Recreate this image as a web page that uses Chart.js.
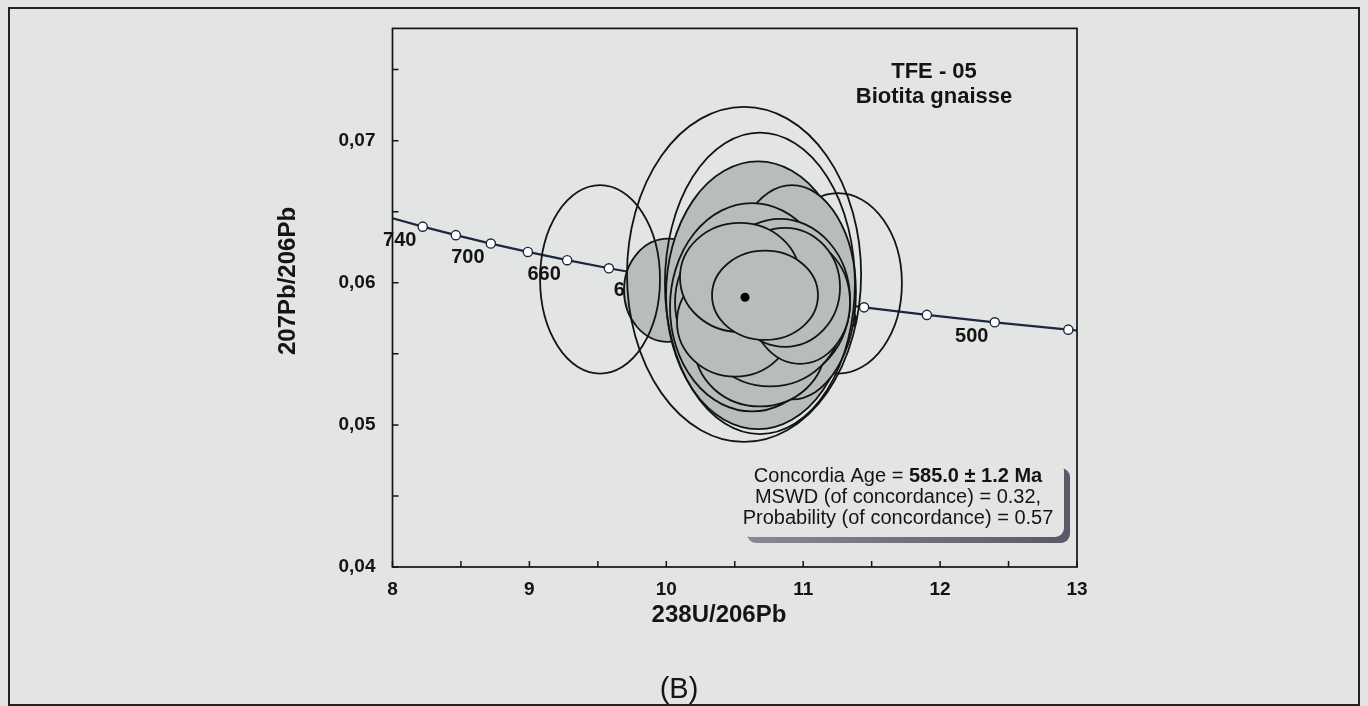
<!DOCTYPE html>
<html>
<head>
<meta charset="utf-8">
<script src="https://cdn.jsdelivr.net/npm/chart.js@4.4.1/dist/chart.umd.min.js"></script>
<style>
  html, body { margin: 0; padding: 0; background: #e3e5e5; }
  #wrap { position: relative; width: 1368px; height: 706px; }
</style>
</head>
<body>
<div id="wrap"><canvas id="c" width="1368" height="706"></canvas></div>
<script>
// Concordia curve nodes (Tera-Wasserburg space), 20 Ma apart; null age = curve end at the frame
const concordiaAges = [null, 740, 720, 700, 680, 660, 640, 620, 600, 580, 560, 540, 520, 500, 480, null];
const concordiaX = [8.000, 8.2208, 8.4627, 8.7182, 8.9888, 9.2759, 9.5808, 9.9054, 10.2518, 10.6220, 11.0187, 11.4447, 11.9036, 12.3993, 12.9363, 13.000];
const concordiaY = [0.06454, 0.06395, 0.06335, 0.06276, 0.06217, 0.06159, 0.06102, 0.06046, 0.05990, 0.05935, 0.05881, 0.05827, 0.05774, 0.05722, 0.05670, 0.05664];
// ages written beside the curve
const concordiaLabelAges = [740, 700, 660, 620, 580, 540, 500];

// Zircon spot error ellipses (drawing order): centre, half-axes, style
// style: 'under' = open, behind the spots; 'fill' = grey spot; 'open' = open outline on top
const ellipseX      = [11.254, 10.012, 10.670, 10.918, 10.626, 10.831, 10.575, 10.684, 10.758, 10.502, 10.977, 10.867, 10.538, 10.721, 9.516, 10.568, 10.684];
const ellipseY      = [0.05996, 0.05947, 0.05912, 0.05933, 0.05828, 0.05877, 0.05863, 0.05549, 0.05759, 0.05724, 0.05863, 0.05968, 0.06038, 0.05912, 0.06024, 0.06059, 0.05996];
const ellipseHalfX  = [0.467, 0.321, 0.672, 0.467, 0.599, 0.511, 0.511, 0.475, 0.526, 0.424, 0.365, 0.402, 0.438, 0.387, 0.438, 0.855, 0.694];
const ellipseHalfY  = [0.00635, 0.00363, 0.00942, 0.00754, 0.00733, 0.00572, 0.00523, 0.00419, 0.00488, 0.00384, 0.00433, 0.00419, 0.00384, 0.00314, 0.00663, 0.01179, 0.01061];
const ellipseStyle  = ['under', 'fill', 'fill', 'fill', 'fill', 'fill', 'fill', 'fill', 'fill', 'fill', 'fill', 'fill', 'fill', 'fill', 'open', 'open', 'open'];

// Concordia age point
const ageX = [10.575];
const ageY = [0.05898];

// Axis ticks
const xTicks = [8, 8.5, 9, 9.5, 10, 10.5, 11, 11.5, 12, 12.5, 13];
const yTicks = [0.04, 0.045, 0.05, 0.055, 0.06, 0.065, 0.07, 0.075];

const FONT = '"Liberation Sans", Arial, sans-serif';
const BG = '#e3e5e5';
const INK = '#141414';

const decorPlugin = {
  id: 'decor',
  beforeDraw(chart) {
    const ctx = chart.ctx;
    ctx.save();
    ctx.fillStyle = BG;
    ctx.fillRect(0, 0, chart.width, chart.height);
    // outer figure frame
    ctx.strokeStyle = '#222';
    ctx.lineWidth = 2;
    ctx.strokeRect(9, 8, 1350, 697);
    ctx.restore();
  },
  afterDatasetsDraw(chart) {
    const ctx = chart.ctx;
    const xs = chart.scales.x, ys = chart.scales.y;
    const area = chart.chartArea;
    ctx.save();

    // age labels along the concordia (drawn first, spots cover some)
    ctx.fillStyle = INK;
    ctx.font = 'bold 20px ' + FONT;
    ctx.textAlign = 'center';
    ctx.textBaseline = 'middle';
    concordiaLabelAges.forEach(a => {
      const i = concordiaAges.indexOf(a);
      const px = xs.getPixelForValue(concordiaX[i]);
      const py = ys.getPixelForValue(concordiaY[i]);
      ctx.fillText(String(a), px - 23, py + 14);
    });

    // error ellipses in list order
    ellipseX.forEach((_, i) => {
      const cx = xs.getPixelForValue(ellipseX[i]);
      const cy = ys.getPixelForValue(ellipseY[i]);
      const rx = Math.abs(xs.getPixelForValue(ellipseX[i] + ellipseHalfX[i]) - cx);
      const ry = Math.abs(ys.getPixelForValue(ellipseY[i] + ellipseHalfY[i]) - cy);
      ctx.beginPath();
      ctx.ellipse(cx, cy, rx, ry, 0, 0, Math.PI * 2);
      if (ellipseStyle[i] === 'fill') { ctx.fillStyle = '#b7bcbc'; ctx.fill(); }
      ctx.strokeStyle = INK;
      ctx.lineWidth = 1.8;
      ctx.stroke();
    });

    // concordia age point
    ageX.forEach((v, i) => {
      ctx.beginPath();
      ctx.arc(xs.getPixelForValue(v), ys.getPixelForValue(ageY[i]), 4.5, 0, Math.PI * 2);
      ctx.fillStyle = '#000';
      ctx.fill();
    });

    // plot frame and inward tick marks
    ctx.strokeStyle = INK;
    ctx.lineWidth = 1.7;
    ctx.strokeRect(area.left, area.top, area.right - area.left, area.bottom - area.top);
    ctx.lineWidth = 1.5;
    ctx.beginPath();
    xs.ticks.forEach(t => {
      const p = xs.getPixelForValue(t.value);
      ctx.moveTo(p, area.bottom);
      ctx.lineTo(p, area.bottom - 6);
    });
    ys.ticks.forEach(t => {
      const p = ys.getPixelForValue(t.value);
      ctx.moveTo(area.left, p);
      ctx.lineTo(area.left + 6, p);
    });
    ctx.stroke();

    // axis titles
    ctx.fillStyle = INK;
    ctx.font = 'bold 24px ' + FONT;
    ctx.textAlign = 'center';
    ctx.textBaseline = 'middle';
    ctx.fillText('238U/206Pb', 719, 615);
    ctx.save();
    ctx.translate(288, 281);
    ctx.rotate(-Math.PI / 2);
    ctx.fillText('207Pb/206Pb', 0, 0);
    ctx.restore();

    // sample name
    ctx.font = 'bold 22px ' + FONT;
    ctx.fillText('TFE - 05', 934, 72);
    ctx.fillText('Biotita gnaisse', 934, 97);

    // result box with drop shadow
    const bx = 741, by = 462, bw = 323, bh = 75;
    const grad = ctx.createLinearGradient(bx, 0, bx + bw + 6, 0);
    grad.addColorStop(0, '#8c8896');
    grad.addColorStop(1, '#5c586a');
    ctx.fillStyle = grad;
    ctx.beginPath();
    ctx.roundRect(bx + 6, by + 6, bw, bh, 9);
    ctx.fill();
    ctx.fillStyle = BG;
    ctx.beginPath();
    ctx.roundRect(bx, by, bw, bh, 9);
    ctx.fill();

    const cxT = 898;
    ctx.fillStyle = INK;
    ctx.textBaseline = 'middle';
    ctx.textAlign = 'left';
    const p1 = 'Concordia Age = ';
    const p2 = '585.0 \u00b1 1.2 Ma';
    ctx.font = '20px ' + FONT;
    const w1 = ctx.measureText(p1).width;
    ctx.font = 'bold 20px ' + FONT;
    const w2 = ctx.measureText(p2).width;
    const sx = cxT - (w1 + w2) / 2;
    ctx.font = '20px ' + FONT;
    ctx.fillText(p1, sx, 476);
    ctx.font = 'bold 20px ' + FONT;
    ctx.fillText(p2, sx + w1, 476);
    ctx.font = '20px ' + FONT;
    ctx.textAlign = 'center';
    ctx.fillText('MSWD (of concordance) = 0.32,', cxT, 497);
    ctx.fillText('Probability (of concordance) = 0.57', cxT, 518);

    // panel letter
    ctx.font = '29px ' + FONT;
    ctx.fillText('(B)', 679, 690);

    ctx.restore();
  }
};

const points = concordiaX.map((x, i) => ({ x: x, y: concordiaY[i] }));

new Chart(document.getElementById('c'), {
  type: 'scatter',
  data: {
    datasets: [{
      data: points,
      showLine: true,
      borderColor: '#1d2741',
      borderWidth: 2.2,
      tension: 0,
      pointRadius: concordiaAges.map(a => a === null ? 0 : 4.6),
      pointBackgroundColor: '#ffffff',
      pointBorderColor: '#1d2741',
      pointBorderWidth: 1.4
    }]
  },
  options: {
    responsive: false,
    animation: false,
    devicePixelRatio: 1,
    layout: { padding: { left: 292.5, right: 291, top: 24, bottom: 79 } },
    plugins: { legend: { display: false }, tooltip: { enabled: false } },
    scales: {
      x: {
        type: 'linear',
        min: 8, max: 13,
        afterBuildTicks: s => { s.ticks = xTicks.map(v => ({ value: v })); },
        afterFit: s => { s.height = 60; },
        grid: { display: false, drawTicks: false },
        border: { display: false },
        ticks: {
          autoSkip: false, maxRotation: 0, padding: 11, color: INK,
          font: { family: FONT, size: 19, weight: 'bold' },
          callback: v => Number.isInteger(v) ? String(v) : ''
        }
      },
      y: {
        type: 'linear',
        min: 0.04, max: 0.0779,
        afterBuildTicks: s => { s.ticks = yTicks.map(v => ({ value: v })); },
        afterFit: s => { s.width = 100; },
        grid: { display: false, drawTicks: false },
        border: { display: false },
        ticks: {
          autoSkip: false, padding: 17, color: INK,
          font: { family: FONT, size: 19, weight: 'bold' },
          callback: v => (Math.abs(v * 100 - Math.round(v * 100)) < 1e-6) ? v.toFixed(2).replace('.', ',') : ''
        }
      }
    }
  },
  plugins: [decorPlugin]
});
</script>
</body>
</html>
